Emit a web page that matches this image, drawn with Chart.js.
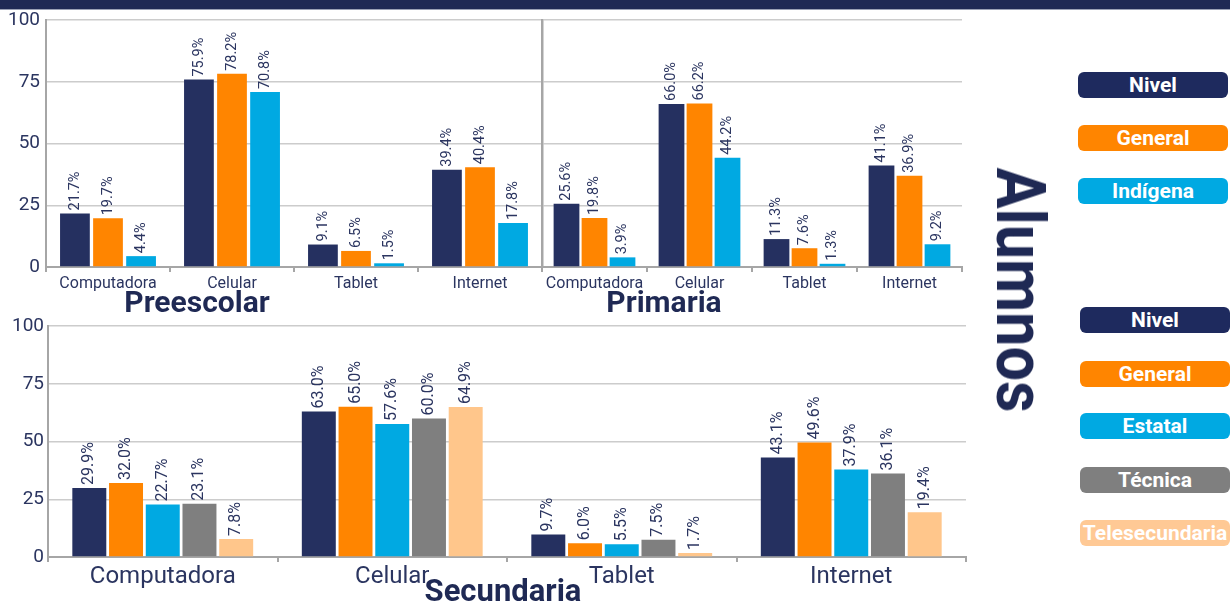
<!DOCTYPE html>
<html><head><meta charset="utf-8">
<script src="https://cdn.jsdelivr.net/npm/chart.js@4.4.0/dist/chart.umd.min.js"></script>
<style>
html,body{margin:0;padding:0;background:#fff;width:1230px;height:603px;overflow:hidden;font-family:Roboto,"Noto Sans",sans-serif;}
#band{position:absolute;left:0;top:0;width:1230px;height:9px;background:#1f2954;border-bottom:1px solid #9aa0b4;}
canvas{position:absolute;}
.title{position:absolute;font-weight:700;color:#1f2954;font-size:30px;transform:translateX(-50%);white-space:nowrap;line-height:1;z-index:5;}
.leg{position:absolute;width:150px;height:26px;border-radius:6px;color:#fff;font-weight:700;font-size:21px;line-height:26px;text-align:center;white-space:nowrap;overflow:hidden;}
#alumnos{position:absolute;left:1020px;top:290px;font-size:68px;line-height:68px;font-weight:700;color:#1f2954;white-space:nowrap;
  transform:translate(-50%,-50%) rotate(90deg) scaleX(0.9);}
</style></head>
<body>
<div id="band"></div>
<canvas id="cPre" width="542" height="300" style="left:0;top:0;width:542px;height:300px"></canvas>
<canvas id="cPri" width="460" height="300" style="left:520px;top:0;width:460px;height:300px"></canvas>
<canvas id="cSec" width="1000" height="303" style="left:0;top:300px;width:1000px;height:303px"></canvas>
<div class="title" style="left:197px;top:287px">Preescolar</div>
<div class="title" style="left:664px;top:287px">Primaria</div>
<div class="title" style="left:503px;top:575px;font-size:31px">Secundaria</div>
<div id="alumnos">Alumnos</div>
<div id="legendTop"></div>
<div id="legendBottom"></div>
<script>
// ---- data ----
const categories = ['Computadora', 'Celular', 'Tablet', 'Internet'];
const yTicks = [0, 25, 50, 75, 100];

const preNivel    = [21.7, 75.9, 9.1, 39.4];
const preGeneral  = [19.7, 78.2, 6.5, 40.4];
const preIndigena = [4.4, 70.8, 1.5, 17.8];

const priNivel    = [25.6, 66.0, 11.3, 41.1];
const priGeneral  = [19.8, 66.2, 7.6, 36.9];
const priIndigena = [3.9, 44.2, 1.3, 9.2];

const secNivel    = [29.9, 63.0, 9.7, 43.1];
const secGeneral  = [32.0, 65.0, 6.0, 49.6];
const secEstatal  = [22.7, 57.6, 5.5, 37.9];
const secTecnica  = [23.1, 60.0, 7.5, 36.1];
const secTele     = [7.8, 64.9, 1.7, 19.4];

const topSeriesNames = ['Nivel', 'General', 'Indígena'];
const bottomSeriesNames = ['Nivel', 'General', 'Estatal', 'Técnica', 'Telesecundaria'];

// ---- styles ----
const C = {navy:'#253060', orange:'#ff8500', cyan:'#00a9e2', gray:'#7f7f7f', peach:'#ffc68b'};
const textColor = '#2b3560';
const axisColor = '#a6a6a6';
const gridColor = '#cccccc';
const FONT = 'Roboto';

const valueLabels = {
  id: 'valueLabels',
  afterDatasetsDraw(chart, args, o) {
    const ctx = chart.ctx;
    ctx.save();
    ctx.font = o.size + 'px ' + FONT;
    ctx.fillStyle = o.color;
    ctx.textAlign = 'left';
    ctx.textBaseline = 'middle';
    chart.data.datasets.forEach((ds, i) => {
      const meta = chart.getDatasetMeta(i);
      meta.data.forEach((bar, j) => {
        ctx.save();
        ctx.translate(bar.x, bar.y - o.offset);
        ctx.rotate(-Math.PI / 2);
        ctx.fillText(ds.data[j].toFixed(1) + '%', 0, 0);
        ctx.restore();
      });
    });
    ctx.restore();
  }
};

function ds(label, data, color, cp, bp) {
  return {label, data, backgroundColor: color, borderWidth: 0, categoryPercentage: cp, barPercentage: bp};
}

function makeChart(id, datasets, cfg) {
  return new Chart(document.getElementById(id), {
    type: 'bar',
    data: {labels: categories, datasets},
    plugins: [valueLabels],
    options: {
      responsive: false,
      animation: false,
      layout: {padding: cfg.padding},
      plugins: {
        legend: {display: false},
        tooltip: {enabled: false},
        title: {display: false},
        valueLabels: {size: cfg.labelSize, color: textColor, offset: 3}
      },
      scales: {
        x: {
          grid: {offset: true, drawOnChartArea: false, drawTicks: true, tickLength: 5, color: axisColor, lineWidth: 2},
          border: {color: axisColor, width: 2},
          ticks: {color: textColor, font: {size: cfg.xSize, family: FONT}, padding: cfg.xPad, maxRotation: 0, autoSkip: false},
          afterFit: s => { s.height = cfg.xHeight; }
        },
        y: {
          min: 0, max: 100,
          afterBuildTicks: s => { s.ticks = yTicks.map(v => ({value: v})); },
          ticks: {display: cfg.yLabels, color: textColor, font: {size: 19, family: FONT}, padding: cfg.yPad},
          grid: {color: gridColor, lineWidth: 1.5, drawTicks: false},
          border: {color: axisColor, width: cfg.yBorder},
          afterFit: s => { s.width = cfg.yWidth; }
        }
      }
    }
  });
}

makeChart('cPre', [
  ds('Nivel', preNivel, C.navy, 0.8, 0.9),
  ds('General', preGeneral, C.orange, 0.8, 0.9),
  ds('Indígena', preIndigena, C.cyan, 0.8, 0.9)
], {padding: {top: 20, right: 0, left: 0, bottom: 0}, labelSize: 14.5, xSize: 16, xPad: 2, xHeight: 33, yLabels: true, yPad: 6, yWidth: 46, yBorder: 2});

makeChart('cPri', [
  ds('Nivel', priNivel, C.navy, 0.8, 0.92),
  ds('General', priGeneral, C.orange, 0.8, 0.92),
  ds('Indígena', priIndigena, C.cyan, 0.8, 0.92)
], {padding: {top: 20, right: 18, left: 0, bottom: 0}, labelSize: 14.5, xSize: 16, xPad: 2, xHeight: 33, yLabels: false, yPad: 0, yWidth: 22, yBorder: 2.5});

makeChart('cSec', [
  ds('Nivel', secNivel, C.navy, 0.8, 0.925),
  ds('General', secGeneral, C.orange, 0.8, 0.925),
  ds('Estatal', secEstatal, C.cyan, 0.8, 0.925),
  ds('Técnica', secTecnica, C.gray, 0.8, 0.925),
  ds('Telesecundaria', secTele, C.peach, 0.8, 0.925)
], {padding: {top: 26, right: 34, left: 0, bottom: 0}, labelSize: 16, xSize: 24, xPad: 1, xHeight: 46, yLabels: true, yPad: 4, yWidth: 48, yBorder: 2});

// ---- legends ----
const legendColors = ['#1e2a5e', '#ff8500', '#00a9e2', '#7f7f7f', '#ffc995'];
function buildLegend(el, names, left, tops) {
  names.forEach((n, i) => {
    const d = document.createElement('div');
    d.className = 'leg';
    d.style.left = left + 'px';
    d.style.top = tops[i] + 'px';
    d.style.background = legendColors[i];
    d.textContent = n;
    el.appendChild(d);
  });
}
buildLegend(document.getElementById('legendTop'), topSeriesNames, 1078, [72, 125, 178]);
buildLegend(document.getElementById('legendBottom'), bottomSeriesNames, 1080, [307, 361, 413, 467, 520]);
</script>
</body></html>
